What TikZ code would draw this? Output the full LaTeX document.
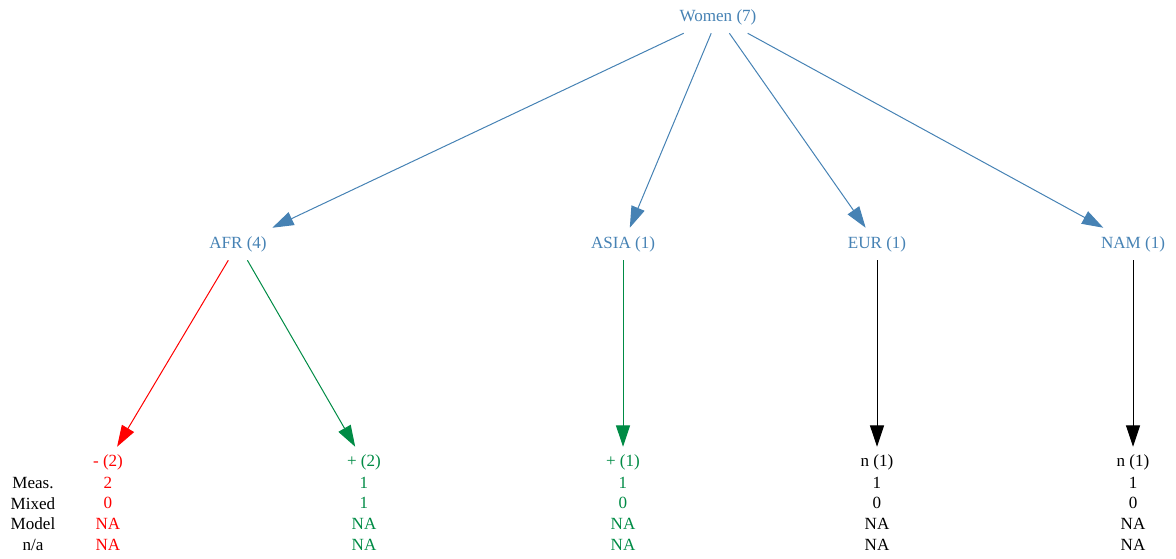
\documentclass[tikz,border=0pt]{standalone}
\usepackage{fontspec}
\setmainfont{Liberation Serif}
\usepackage{xcolor}
\usepackage{tikz}
\usetikzlibrary{positioning,arrows.meta}

\definecolor{steel}{RGB}{70,130,180}
\definecolor{leafgreen}{RGB}{0,139,69}

\begin{document}
\begin{tikzpicture}[x=0.75pt, y=-0.75pt, node distance=15.5pt, on grid,
    every node/.style={font=\fontsize{12.8}{14}\selectfont, inner sep=0pt},
    group/.style={text=steel, minimum height=24pt, minimum width=60pt},
    leaf/.style={minimum height=22.5pt, minimum width=30pt},
    rowlab/.style={text=black},
    edge/.style={-{Triangle[length=16pt, width=10.5pt]}, line width=0.75pt}]
    \useasboundingbox (0,0) rectangle (1176,558);
    % Groups
    \node[group] (women) at (718,17) {Women (7)};
    \node[group] (afr) at (238,244) {AFR (4)};
    \node[group] (asia) at (623,244) {ASIA (1)};
    \node[group] (eur) at (877,244) {EUR (1)};
    \node[group] (nam) at (1133,244) {NAM (1)};

    % Leaves
    \node[leaf, text=red] (neg) at (108,462) {- (2)};
    \node[leaf, text=leafgreen] (pos_afr) at (364,462) {+ (2)};
    \node[leaf, text=leafgreen] (pos_asia) at (623,462) {+ (1)};
    \node[leaf] (n_eur) at (877,462) {n (1)};
    \node[leaf] (n_nam) at (1133,462) {n (1)};

    % Table
    \node[rowlab] (lab_meas) at (33,482.7) {Meas.};
    \node[rowlab] (lab_mixed) [below=of lab_meas] {Mixed};
    \node[rowlab] (lab_model) [below=of lab_mixed] {Model};
    \node[rowlab] (lab_na) [below=of lab_model] {n/a};

    \node[text=red] (neg_meas) [below=of neg] {2};
    \node[text=red] (neg_mixed) [below=of neg_meas] {0};
    \node[text=red] (neg_model) [below=of neg_mixed] {NA};
    \node[text=red] (neg_na) [below=of neg_model] {NA};

    \node[text=leafgreen] (pafr_meas) [below=of pos_afr] {1};
    \node[text=leafgreen] (pafr_mixed) [below=of pafr_meas] {1};
    \node[text=leafgreen] (pafr_model) [below=of pafr_mixed] {NA};
    \node[text=leafgreen] (pafr_na) [below=of pafr_model] {NA};

    \node[text=leafgreen] (pasia_meas) [below=of pos_asia] {1};
    \node[text=leafgreen] (pasia_mixed) [below=of pasia_meas] {0};
    \node[text=leafgreen] (pasia_model) [below=of pasia_mixed] {NA};
    \node[text=leafgreen] (pasia_na) [below=of pasia_model] {NA};

    \node (neur_meas) [below=of n_eur] {1};
    \node (neur_mixed) [below=of neur_meas] {0};
    \node (neur_model) [below=of neur_mixed] {NA};
    \node (neur_na) [below=of neur_model] {NA};

    \node (nnam_meas) [below=of n_nam] {1};
    \node (nnam_mixed) [below=of nnam_meas] {0};
    \node (nnam_model) [below=of nnam_mixed] {NA};
    \node (nnam_na) [below=of nnam_model] {NA};

    % Arrows
    \draw[edge, steel] (women) -- (afr);
    \draw[edge, steel] (women) -- (asia);
    \draw[edge, steel] (women) -- (eur);
    \draw[edge, steel] (women) -- (nam);
    \draw[edge, red] (afr) -- (neg);
    \draw[edge, leafgreen] (afr) -- (pos_afr);
    \draw[edge, leafgreen] (asia) -- (pos_asia);
    \draw[edge] (eur) -- (n_eur);
    \draw[edge] (nam) -- (n_nam);
\end{tikzpicture}
\end{document}
